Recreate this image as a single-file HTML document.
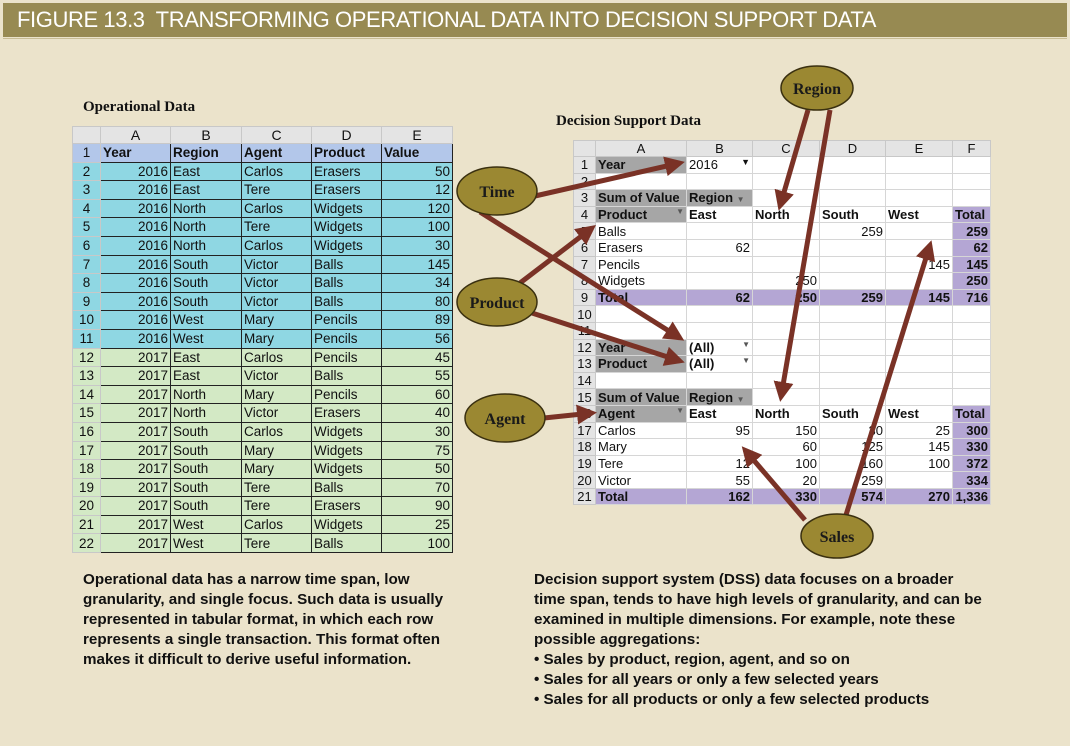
<!DOCTYPE html>
<html><head><meta charset="utf-8"><style>
*{margin:0;padding:0;box-sizing:border-box}
body{width:1070px;height:746px;background:#ebe3cb;position:relative;overflow:hidden;font-family:"Liberation Sans",Arial,sans-serif}
.hdr{position:absolute;left:3px;top:3px;width:1064px;height:34px;background:#978a52;color:#fff;font-size:22px;line-height:34px;padding-left:14px;font-family:"Liberation Sans",sans-serif;letter-spacing:-0.4px}
.hl{position:absolute;left:3px;top:38px;width:1064px;height:1px;background:#c9bd95}
.ttl{position:absolute;font-family:"Liberation Serif",serif;font-weight:bold;font-size:15px;color:#111}
table{position:absolute;border-collapse:collapse;table-layout:fixed;font-size:13.5px;color:#111}
td{white-space:nowrap;overflow:hidden;padding:0 2px;line-height:1}
#L td{border:1px solid #222}
#L tr.ch td{background:#e4e4e4;border:1px solid #c8c8c8;text-align:center;font-size:14px}
#L td.rn{background:#e4e4e4;border:1px solid #c8c8c8;text-align:center}
#L tr.h td{background:#b3c7ea;font-weight:bold}
#L tr.a td{background:#8fd7e3}
#L tr.b td{background:#d3e9c5}
.r{text-align:right}
#R td{border:1px solid #d6d6d6;background:#fff;font-size:13px}
#R tr.ch td{background:#e4e4e4;text-align:center;border-color:#c8c8c8}
#R td.rn{background:#e4e4e4;text-align:center;border-color:#c8c8c8}
#R td.g{background:#a6a6a6;font-weight:bold}
#R td.p{background:#b4a6d4;font-weight:bold}
#R td.b{font-weight:bold}
.txt{position:absolute;font-weight:bold;font-size:15.2px;line-height:20px;color:#111;white-space:nowrap}
</style></head><body>
<div class="hdr">FIGURE 13.3&nbsp; TRANSFORMING OPERATIONAL DATA INTO DECISION SUPPORT DATA</div>
<div class="hl"></div>
<div class="ttl" style="left:83px;top:99px">Operational Data</div>
<div class="ttl" style="left:556px;top:113px">Decision Support Data</div>

<table id="L" style="left:72px;top:126px;width:380px">
<colgroup><col style="width:28px"><col style="width:70px"><col style="width:71px"><col style="width:70px"><col style="width:70px"><col style="width:71px"></colgroup>
<tr class="ch" style="height:17px"><td></td><td>A</td><td>B</td><td>C</td><td>D</td><td>E</td></tr>
<tr class="h" style="height:18.6px"><td class="rn" style="font-weight:normal">1</td><td>Year</td><td>Region</td><td>Agent</td><td>Product</td><td>Value</td></tr>
<tr class="a" style="height:18.6px"><td class="rn">2</td><td class="r">2016</td><td>East</td><td>Carlos</td><td>Erasers</td><td class="r">50</td></tr>
<tr class="a" style="height:18.6px"><td class="rn">3</td><td class="r">2016</td><td>East</td><td>Tere</td><td>Erasers</td><td class="r">12</td></tr>
<tr class="a" style="height:18.6px"><td class="rn">4</td><td class="r">2016</td><td>North</td><td>Carlos</td><td>Widgets</td><td class="r">120</td></tr>
<tr class="a" style="height:18.6px"><td class="rn">5</td><td class="r">2016</td><td>North</td><td>Tere</td><td>Widgets</td><td class="r">100</td></tr>
<tr class="a" style="height:18.6px"><td class="rn">6</td><td class="r">2016</td><td>North</td><td>Carlos</td><td>Widgets</td><td class="r">30</td></tr>
<tr class="a" style="height:18.6px"><td class="rn">7</td><td class="r">2016</td><td>South</td><td>Victor</td><td>Balls</td><td class="r">145</td></tr>
<tr class="a" style="height:18.6px"><td class="rn">8</td><td class="r">2016</td><td>South</td><td>Victor</td><td>Balls</td><td class="r">34</td></tr>
<tr class="a" style="height:18.6px"><td class="rn">9</td><td class="r">2016</td><td>South</td><td>Victor</td><td>Balls</td><td class="r">80</td></tr>
<tr class="a" style="height:18.6px"><td class="rn">10</td><td class="r">2016</td><td>West</td><td>Mary</td><td>Pencils</td><td class="r">89</td></tr>
<tr class="a" style="height:18.6px"><td class="rn">11</td><td class="r">2016</td><td>West</td><td>Mary</td><td>Pencils</td><td class="r">56</td></tr>
<tr class="b" style="height:18.6px"><td class="rn">12</td><td class="r">2017</td><td>East</td><td>Carlos</td><td>Pencils</td><td class="r">45</td></tr>
<tr class="b" style="height:18.6px"><td class="rn">13</td><td class="r">2017</td><td>East</td><td>Victor</td><td>Balls</td><td class="r">55</td></tr>
<tr class="b" style="height:18.6px"><td class="rn">14</td><td class="r">2017</td><td>North</td><td>Mary</td><td>Pencils</td><td class="r">60</td></tr>
<tr class="b" style="height:18.6px"><td class="rn">15</td><td class="r">2017</td><td>North</td><td>Victor</td><td>Erasers</td><td class="r">40</td></tr>
<tr class="b" style="height:18.6px"><td class="rn">16</td><td class="r">2017</td><td>South</td><td>Carlos</td><td>Widgets</td><td class="r">30</td></tr>
<tr class="b" style="height:18.6px"><td class="rn">17</td><td class="r">2017</td><td>South</td><td>Mary</td><td>Widgets</td><td class="r">75</td></tr>
<tr class="b" style="height:18.6px"><td class="rn">18</td><td class="r">2017</td><td>South</td><td>Mary</td><td>Widgets</td><td class="r">50</td></tr>
<tr class="b" style="height:18.6px"><td class="rn">19</td><td class="r">2017</td><td>South</td><td>Tere</td><td>Balls</td><td class="r">70</td></tr>
<tr class="b" style="height:18.6px"><td class="rn">20</td><td class="r">2017</td><td>South</td><td>Tere</td><td>Erasers</td><td class="r">90</td></tr>
<tr class="b" style="height:18.6px"><td class="rn">21</td><td class="r">2017</td><td>West</td><td>Carlos</td><td>Widgets</td><td class="r">25</td></tr>
<tr class="b" style="height:18.6px"><td class="rn">22</td><td class="r">2017</td><td>West</td><td>Tere</td><td>Balls</td><td class="r">100</td></tr>
</table>

<table id="R" style="left:573px;top:140px;width:417px">
<colgroup><col style="width:22px"><col style="width:91px"><col style="width:66px"><col style="width:67px"><col style="width:66px"><col style="width:67px"><col style="width:38px"></colgroup>
<tr class="ch" style="height:16px"><td></td><td>A</td><td>B</td><td>C</td><td>D</td><td>E</td><td>F</td></tr>
<tr style="height:16.6px"><td class="rn">1</td><td class="g">Year</td><td>2016 <span style="float:right;font-size:9px">▼</span></td><td></td><td></td><td></td><td></td></tr>
<tr style="height:16.6px"><td class="rn">2</td><td></td><td></td><td></td><td></td><td></td><td></td></tr>
<tr style="height:16.6px"><td class="rn">3</td><td class="g">Sum of Value</td><td class="g">Region <span style="font-size:8px;color:#555">▼</span></td><td></td><td></td><td></td><td></td></tr>
<tr style="height:16.6px"><td class="rn">4</td><td class="g">Product <span style="float:right;font-size:8px;color:#555">▼</span></td><td class="b">East</td><td class="b">North</td><td class="b">South</td><td class="b">West</td><td class="p">Total</td></tr>
<tr style="height:16.6px"><td class="rn">5</td><td>Balls</td><td></td><td></td><td class="r">259</td><td></td><td class="p r">259</td></tr>
<tr style="height:16.6px"><td class="rn">6</td><td>Erasers</td><td class="r">62</td><td></td><td></td><td></td><td class="p r">62</td></tr>
<tr style="height:16.6px"><td class="rn">7</td><td>Pencils</td><td></td><td></td><td></td><td class="r">145</td><td class="p r">145</td></tr>
<tr style="height:16.6px"><td class="rn">8</td><td>Widgets</td><td></td><td class="r">250</td><td></td><td></td><td class="p r">250</td></tr>
<tr style="height:16.6px"><td class="rn">9</td><td class="p">Total</td><td class="p r">62</td><td class="p r">250</td><td class="p r">259</td><td class="p r">145</td><td class="p r">716</td></tr>
<tr style="height:16.6px"><td class="rn">10</td><td></td><td></td><td></td><td></td><td></td><td></td></tr>
<tr style="height:16.6px"><td class="rn">11</td><td></td><td></td><td></td><td></td><td></td><td></td></tr>
<tr style="height:16.6px"><td class="rn">12</td><td class="g">Year</td><td class="b">(All) <span style="float:right;font-size:8px;color:#555">▼</span></td><td></td><td></td><td></td><td></td></tr>
<tr style="height:16.6px"><td class="rn">13</td><td class="g">Product</td><td class="b">(All) <span style="float:right;font-size:8px;color:#555">▼</span></td><td></td><td></td><td></td><td></td></tr>
<tr style="height:16.6px"><td class="rn">14</td><td></td><td></td><td></td><td></td><td></td><td></td></tr>
<tr style="height:16.6px"><td class="rn">15</td><td class="g">Sum of Value</td><td class="g">Region <span style="font-size:8px;color:#555">▼</span></td><td></td><td></td><td></td><td></td></tr>
<tr style="height:16.6px"><td class="rn">16</td><td class="g">Agent <span style="float:right;font-size:8px;color:#555">▼</span></td><td class="b">East</td><td class="b">North</td><td class="b">South</td><td class="b">West</td><td class="p">Total</td></tr>
<tr style="height:16.6px"><td class="rn">17</td><td>Carlos</td><td class="r">95</td><td class="r">150</td><td class="r">30</td><td class="r">25</td><td class="p r">300</td></tr>
<tr style="height:16.6px"><td class="rn">18</td><td>Mary</td><td></td><td class="r">60</td><td class="r">125</td><td class="r">145</td><td class="p r">330</td></tr>
<tr style="height:16.6px"><td class="rn">19</td><td>Tere</td><td class="r">12</td><td class="r">100</td><td class="r">160</td><td class="r">100</td><td class="p r">372</td></tr>
<tr style="height:16.6px"><td class="rn">20</td><td>Victor</td><td class="r">55</td><td class="r">20</td><td class="r">259</td><td></td><td class="p r">334</td></tr>
<tr style="height:16.6px"><td class="rn">21</td><td class="p">Total</td><td class="p r">162</td><td class="p r">330</td><td class="p r">574</td><td class="p r">270</td><td class="p r">1,336</td></tr>
</table>

<svg style="position:absolute;left:0;top:0" width="1070" height="746">
<defs><marker id="ah" markerWidth="4" markerHeight="4" refX="3" refY="2" orient="auto" markerUnits="strokeWidth"><path d="M0,0 L4,2 L0,4 z" fill="#7a3226"/></marker></defs>
<g stroke="#7a3226" stroke-width="5" fill="none" marker-end="url(#ah)">
<line x1="535" y1="196" x2="680" y2="163"/>
<line x1="480" y1="212" x2="680" y2="338"/>
<line x1="520" y1="283" x2="592" y2="228"/>
<line x1="532" y1="313" x2="680" y2="361"/>
<line x1="544" y1="418" x2="592" y2="413"/>
<line x1="808" y1="110" x2="780" y2="206"/>
<line x1="830" y1="110" x2="781" y2="397"/>
<line x1="805" y1="520" x2="745" y2="450"/>
<line x1="846" y1="515" x2="930" y2="245"/>
</g>
<g fill="#9b8832" stroke="#3a3010" stroke-width="1.5" font-family="Liberation Serif,serif" font-weight="bold" font-size="16" text-anchor="middle">
<ellipse cx="817" cy="88" rx="36" ry="22"/>
<ellipse cx="497" cy="191" rx="40" ry="24"/>
<ellipse cx="497" cy="302" rx="40" ry="24"/>
<ellipse cx="505" cy="418" rx="40" ry="24"/>
<ellipse cx="837" cy="536" rx="36" ry="22"/>
<g fill="#1a1a1a" stroke="none">
<text x="817" y="94">Region</text><text x="497" y="197">Time</text><text x="497" y="308">Product</text><text x="505" y="424">Agent</text><text x="837" y="542">Sales</text>
</g></g>
</svg>

<div class="txt" style="left:83px;top:570px">Operational data has a narrow time span, low<br>granularity, and single focus. Such data is usually<br>represented in tabular format, in which each row<br>represents a single transaction. This format often<br>makes it difficult to derive useful information.</div>
<div class="txt" style="left:534px;top:570px">Decision support system (DSS) data focuses on a broader<br>time span, tends to have high levels of granularity, and can be<br>examined in multiple dimensions. For example, note these<br>possible aggregations:<br>• Sales by product, region, agent, and so on<br>• Sales for all years or only a few selected years<br>• Sales for all products or only a few selected products</div>
</body></html>
